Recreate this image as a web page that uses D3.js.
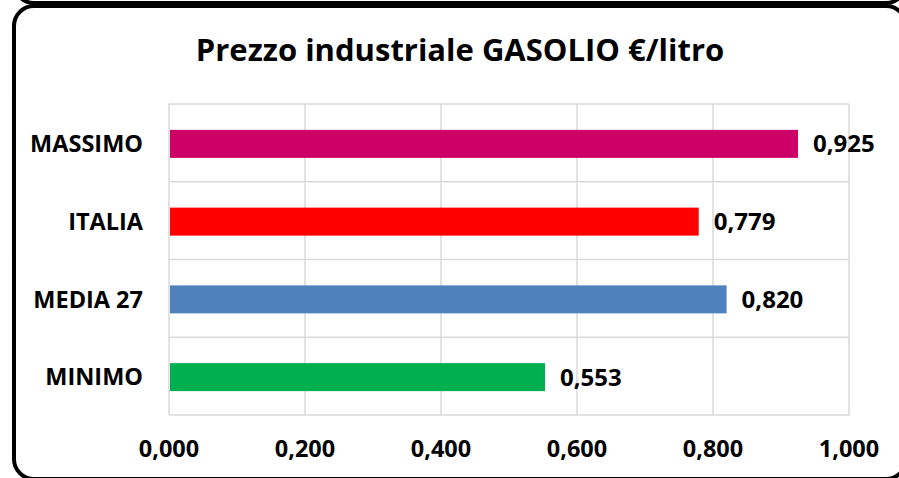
<!DOCTYPE html>
<html>
<head>
<meta charset="utf-8">
<script src="https://cdn.jsdelivr.net/npm/d3@7"></script>
<style>
  body { margin: 0; background: #fff; }
  svg { display: block; font-family: "Open Sans", sans-serif; }
</style>
</head>
<body>
<svg id="chart" width="899" height="478"></svg>
<script>
const categories = ["MASSIMO", "ITALIA", "MEDIA 27", "MINIMO"];
const values = [0.925, 0.779, 0.820, 0.553];
const barColors = ["#CC0066", "#FF0000", "#4F81BD", "#00B050"];
const tickValues = [0, 0.2, 0.4, 0.6, 0.8, 1.0];
const title = "Prezzo industriale GASOLIO €/litro";

const svg = d3.select("#chart"),
    width = +svg.attr("width"),
    height = +svg.attr("height");

const plot = { left: 169, right: 849, top: 104, bottom: 415 };

const fmt = v => d3.format(".3f")(v).replace(".", ",");

// Frames (box above is cut off, main box)
svg.append("rect")
    .attr("x", 14).attr("y", -200)
    .attr("width", 892).attr("height", 203)
    .attr("rx", 20)
    .attr("fill", "none").attr("stroke", "#000").attr("stroke-width", 4);

svg.append("rect")
    .attr("x", 14).attr("y", 6)
    .attr("width", 892).attr("height", 473)
    .attr("rx", 20)
    .attr("fill", "#fff").attr("stroke", "#000").attr("stroke-width", 4);

const x = d3.scaleLinear().domain([0, 1]).range([plot.left, plot.right]);
const y = d3.scaleBand().domain(categories).range([plot.top, plot.bottom]);

// Grid: vertical value lines
svg.append("g")
    .selectAll("line")
    .data(tickValues)
    .join("line")
    .attr("x1", d => x(d)).attr("x2", d => x(d))
    .attr("y1", plot.top).attr("y2", plot.bottom)
    .attr("stroke", "#d9d9d9").attr("stroke-width", 1.5);

// Grid: category boundaries
const bounds = categories.map(c => y(c)).concat([plot.bottom]);
svg.append("g")
    .selectAll("line")
    .data(bounds)
    .join("line")
    .attr("x1", plot.left).attr("x2", plot.right)
    .attr("y1", d => d).attr("y2", d => d)
    .attr("stroke", "#d9d9d9").attr("stroke-width", 1.5);

const barH = y.bandwidth() * 0.36;

// Bars
svg.append("g")
    .selectAll("rect")
    .data(values)
    .join("rect")
    .attr("x", x(0) + 1)
    .attr("y", (d, i) => y(categories[i]) + y.bandwidth() / 2 - barH / 2 + 1)
    .attr("width", d => x(d) - x(0) - 1)
    .attr("height", barH)
    .attr("fill", (d, i) => barColors[i]);

// Value labels
svg.append("g")
    .selectAll("text")
    .data(values)
    .join("text")
    .attr("x", d => x(d) + 15)
    .attr("y", (d, i) => y(categories[i]) + y.bandwidth() / 2 + 1)
    .attr("dy", "0.35em")
    .style("font-size", "24px")
    .style("font-weight", "bold")
    .text(d => fmt(d));

// Category labels
svg.append("g")
    .selectAll("text")
    .data(categories)
    .join("text")
    .attr("x", 143)
    .attr("y", d => y(d) + y.bandwidth() / 2 + 1)
    .attr("dy", "0.35em")
    .attr("text-anchor", "end")
    .style("font-size", "23.5px")
    .style("font-weight", "bold")
    .text(d => d);

// Value axis tick labels
svg.append("g")
    .selectAll("text")
    .data(tickValues)
    .join("text")
    .attr("x", d => x(d))
    .attr("y", 457)
    .attr("text-anchor", "middle")
    .style("font-size", "23.5px")
    .style("font-weight", "bold")
    .text(d => fmt(d));

// Title
svg.append("text")
    .attr("x", 460)
    .attr("y", 61)
    .attr("text-anchor", "middle")
    .style("font-size", "31px")
    .style("font-weight", "bold")
    .text(title);
</script>
</body>
</html>
